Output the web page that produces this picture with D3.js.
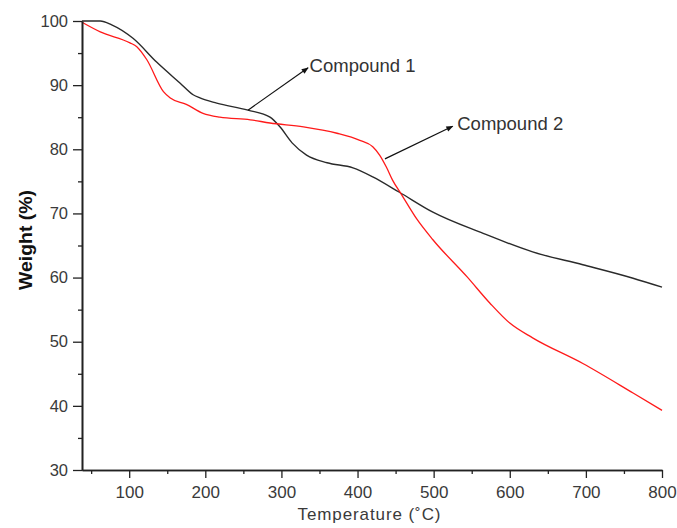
<!DOCTYPE html>
<html>
<head>
<meta charset="utf-8">
<script src="https://cdn.jsdelivr.net/npm/d3@7"></script>
<style>
  html, body { margin: 0; padding: 0; background: #fff; }
  svg { display: block; font-family: Arial, "Liberation Sans", sans-serif; }
</style>
</head>
<body>
<svg id="chart" width="677" height="528"></svg>
<script>
// ---- data ----
const xTicks = [100, 200, 300, 400, 500, 600, 700, 800];
const xMinorTicks = [50, 150, 250, 350, 450, 550, 650, 750];
const yTicks = [30, 40, 50, 60, 70, 80, 90, 100];
const yMinorTicks = [35, 45, 55, 65, 75, 85, 95];

const comp1Temp = [38, 62, 77, 105, 136, 167, 184, 193, 215, 256, 285, 298, 314, 333, 360, 394, 420, 455, 499, 565, 630, 696, 762, 800];
const comp1Weight = [100, 100, 99.4, 97.3, 93.6, 90.3, 88.5, 88.0, 87.2, 86.1, 85.0, 83.5, 81.0, 79.1, 77.9, 77.1, 75.7, 73.3, 70.2, 66.9, 64.0, 62.0, 59.9, 58.5];

const comp2Temp = [38, 62, 101, 110, 123, 145, 154, 175, 197, 219, 259, 285, 329, 373, 403, 420, 429, 438, 446, 458, 478, 499, 544, 574, 600, 630, 696, 762, 800];
const comp2Weight = [99.8, 98.3, 96.6, 96.0, 94.0, 89.0, 88.0, 87.0, 85.6, 85.0, 84.6, 84.1, 83.5, 82.5, 81.4, 80.4, 79.1, 77.2, 75.2, 72.9, 69.1, 65.9, 60.1, 56.0, 52.9, 50.6, 46.6, 42.0, 39.3];

const annoLabels = ["Compound 1", "Compound 2"];
const annoFrom = [[256, 86.1], [436, 78.5]];
const annoTo = [[335, 92.7], [525, 83.6]];
const annoText = [[337, 93.0], [531, 84.0]];

// ---- chart ----
const svg = d3.select("#chart");
const x = d3.scaleLinear().domain([38, 800]).range([82, 662]);
const y = d3.scaleLinear().domain([30, 100]).range([470, 21]);

const defs = svg.append("defs");
defs.append("marker")
  .attr("id", "arrow")
  .attr("viewBox", "0 0 10 10")
  .attr("refX", 9).attr("refY", 5)
  .attr("markerWidth", 9).attr("markerHeight", 7)
  .attr("markerUnits", "userSpaceOnUse")
  .attr("orient", "auto")
  .append("path").attr("d", "M0,1 L10,5 L0,9 Z").attr("fill", "#111");

// lines
const line = d3.line().x(d => x(d[0])).y(d => y(d[1])).curve(d3.curveMonotoneX);
const s1 = comp1Temp.map((t, i) => [t, comp1Weight[i]]);
const s2 = comp2Temp.map((t, i) => [t, comp2Weight[i]]);

svg.append("path").datum(s1).attr("d", line)
  .attr("fill", "none").attr("stroke", "#2a2a2a").attr("stroke-width", 1.4)
  .attr("stroke-linejoin", "round");
svg.append("path").datum(s2).attr("d", line)
  .attr("fill", "none").attr("stroke", "#ff1a1a").attr("stroke-width", 1.3)
  .attr("stroke-linejoin", "round");

// axes
function styleAxis(g) {
  g.select(".domain").attr("stroke", "#222").attr("stroke-width", 1.6);
  g.selectAll(".tick line").attr("stroke", "#222").attr("stroke-width", 1.3);
  g.selectAll(".tick text").attr("fill", "#3a3a3a").attr("font-family", "Arial, 'Liberation Sans', sans-serif");
}

const xAxisMinor = svg.append("g").attr("transform", "translate(0,470)")
  .call(d3.axisBottom(x).tickValues(xMinorTicks).tickSize(4).tickFormat("").tickSizeOuter(0));
styleAxis(xAxisMinor);
const xAxis = svg.append("g").attr("transform", "translate(0,470)")
  .call(d3.axisBottom(x).tickValues(xTicks).tickSize(8).tickPadding(8).tickSizeOuter(0));
styleAxis(xAxis);
xAxis.selectAll(".tick text").attr("font-size", 17);

const yAxisMinor = svg.append("g").attr("transform", "translate(82,0)")
  .call(d3.axisLeft(y).tickValues(yMinorTicks).tickSize(4).tickFormat("").tickSizeOuter(0));
styleAxis(yAxisMinor);
const yAxis = svg.append("g").attr("transform", "translate(82,0)")
  .call(d3.axisLeft(y).tickValues(yTicks).tickSize(9).tickPadding(5).tickSizeOuter(0));
styleAxis(yAxis);
yAxis.selectAll(".tick text").attr("font-size", 16.5);

// axis titles
svg.append("text")
  .attr("x", 369).attr("y", 520)
  .attr("text-anchor", "middle")
  .attr("font-size", 17).attr("fill", "#3a3a3a")
  .attr("textLength", 143).attr("lengthAdjust", "spacing")
  .text("Temperature (˚C)");

svg.append("text")
  .attr("transform", "translate(32,240) rotate(-90)")
  .attr("text-anchor", "middle")
  .attr("font-size", 18).attr("font-weight", "bold").attr("fill", "#111")
  .attr("textLength", 100).attr("lengthAdjust", "spacingAndGlyphs")
  .text("Weight (%)");

// annotations
annoLabels.forEach((lab, i) => {
  svg.append("line")
    .attr("x1", x(annoFrom[i][0])).attr("y1", y(annoFrom[i][1]))
    .attr("x2", x(annoTo[i][0])).attr("y2", y(annoTo[i][1]))
    .attr("stroke", "#111").attr("stroke-width", 1.2)
    .attr("marker-end", "url(#arrow)");
  svg.append("text")
    .attr("x", x(annoText[i][0])).attr("y", y(annoText[i][1]))
    .attr("dy", "0.35em")
    .attr("font-size", 18.5).attr("fill", "#333")
    .text(lab);
});
</script>
</body>
</html>
